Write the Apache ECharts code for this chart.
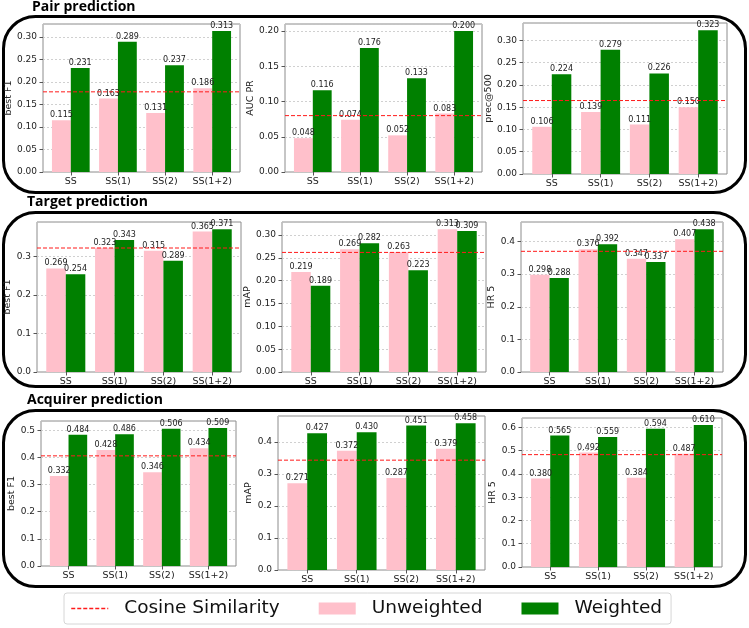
<!DOCTYPE html>
<html>
<head>
<meta charset="utf-8">
<script src="https://cdn.jsdelivr.net/npm/echarts@6/dist/echarts.min.js"></script>
<style>
  html, body { margin: 0; padding: 0; background: #fff; }
  #box { width: 749px; height: 628px; }
</style>
</head>
<body>
<div id="box"></div>
<script>
// x 轴类别
const categories = ['SS', 'SS(1)', 'SS(2)', 'SS(1+2)'];

// Pair prediction
const pairF1Unweighted = [0.115, 0.163, 0.131, 0.186];
const pairF1Weighted = [0.231, 0.289, 0.237, 0.313];
const pairF1Cosine = 0.178;
const pairAucUnweighted = [0.048, 0.074, 0.052, 0.083];
const pairAucWeighted = [0.116, 0.176, 0.133, 0.200];
const pairAucCosine = 0.080;
const pairPrecUnweighted = [0.106, 0.139, 0.111, 0.150];
const pairPrecWeighted = [0.224, 0.279, 0.226, 0.323];
const pairPrecCosine = 0.165;

// Target prediction
const targetF1Unweighted = [0.269, 0.323, 0.315, 0.365];
const targetF1Weighted = [0.254, 0.343, 0.289, 0.371];
const targetF1Cosine = 0.322;
const targetMapUnweighted = [0.219, 0.269, 0.263, 0.313];
const targetMapWeighted = [0.189, 0.282, 0.223, 0.309];
const targetMapCosine = 0.262;
const targetHrUnweighted = [0.298, 0.376, 0.347, 0.407];
const targetHrWeighted = [0.288, 0.392, 0.337, 0.438];
const targetHrCosine = 0.370;

// Acquirer prediction
const acqF1Unweighted = [0.332, 0.428, 0.346, 0.434];
const acqF1Weighted = [0.484, 0.486, 0.506, 0.509];
const acqF1Cosine = 0.406;
const acqMapUnweighted = [0.271, 0.372, 0.287, 0.379];
const acqMapWeighted = [0.427, 0.430, 0.451, 0.458];
const acqMapCosine = 0.343;
const acqHrUnweighted = [0.380, 0.492, 0.384, 0.487];
const acqHrWeighted = [0.565, 0.559, 0.594, 0.610];
const acqHrCosine = 0.483;

// 每个子图: 数据 + 位置
const panels = [
  { name: 'best F1', u: pairF1Unweighted, w: pairF1Weighted, cos: pairF1Cosine, step: 0.05, dec: 2, box: [43, 24, 197, 148], gap: 28 },
  { name: 'AUC PR', u: pairAucUnweighted, w: pairAucWeighted, cos: pairAucCosine, step: 0.05, dec: 2, box: [285, 24, 197, 148], gap: 28 },
  { name: 'prec@500', u: pairPrecUnweighted, w: pairPrecWeighted, cos: pairPrecCosine, step: 0.05, dec: 2, box: [523, 23, 204, 151], gap: 28 },
  { name: 'best F1', u: targetF1Unweighted, w: targetF1Weighted, cos: targetF1Cosine, step: 0.1, dec: 1, box: [37, 222, 204, 150], gap: 22 },
  { name: 'mAP', u: targetMapUnweighted, w: targetMapWeighted, cos: targetMapCosine, step: 0.05, dec: 2, box: [282, 222, 204, 150], gap: 28 },
  { name: 'HR 5', u: targetHrUnweighted, w: targetHrWeighted, cos: targetHrCosine, step: 0.1, dec: 1, box: [521, 222, 202, 150], gap: 22 },
  { name: 'best F1', u: acqF1Unweighted, w: acqF1Weighted, cos: acqF1Cosine, step: 0.1, dec: 1, box: [41, 421, 195, 145], gap: 22 },
  { name: 'mAP', u: acqMapUnweighted, w: acqMapWeighted, cos: acqMapCosine, step: 0.1, dec: 1, box: [278, 416, 207, 154], gap: 22 },
  { name: 'HR 5', u: acqHrUnweighted, w: acqHrWeighted, cos: acqHrCosine, step: 0.1, dec: 1, box: [522, 418, 200, 149], gap: 22 }
];

const FONT = 'DejaVu Sans';
const PINK = '#ffc0cb';
const GREEN = '#008000';
const RED = '#ff1a1a';
// x 轴范围 (和 matplotlib 的 margins 一致)
const xMin = -0.59, xMax = 3.59;

const grid = [], xAxis = [], yAxis = [], series = [];

panels.forEach((p, k) => {
  const yMax = Math.max(...p.u, ...p.w) * 1.05;

  grid.push({
    left: p.box[0], top: p.box[1], width: p.box[2], height: p.box[3],
    show: true, borderColor: '#8c8c8c', borderWidth: 1, backgroundColor: 'transparent'
  });
  xAxis.push({
    type: 'value', gridIndex: k, min: xMin, max: xMax,
    axisLine: { show: false, onZero: false },
    splitLine: { show: false },
    axisTick: { show: true, length: 3.5, customValues: [0, 1, 2, 3], lineStyle: { color: '#555' } },
    axisLabel: {
      customValues: [0, 1, 2, 3], margin: 5,
      formatter: v => categories[Math.round(v)],
      fontFamily: FONT, fontSize: 9.5, color: '#222'
    }
  });
  yAxis.push({
    type: 'value', gridIndex: k, min: 0, max: yMax, interval: p.step,
    name: p.name, nameLocation: 'middle', nameRotate: 90, nameGap: p.gap,
    nameTextStyle: { fontFamily: FONT, fontSize: 9.5, color: '#222' },
    axisLine: { show: false, onZero: false },
    axisTick: { show: true, length: 3.5, lineStyle: { color: '#555' } },
    axisLabel: {
      margin: 6, showMaxLabel: false,
      formatter: v => v.toFixed(p.dec),
      fontFamily: FONT, fontSize: 9, color: '#222'
    },
    splitLine: { show: true, lineStyle: { color: '#c4c4c4', type: [2, 2], width: 0.8 } }
  });

  const barLabel = {
    show: true, position: 'top', distance: 1,
    formatter: d => d.value[1].toFixed(3),
    fontFamily: FONT, fontSize: 8, color: '#222'
  };
  series.push({
    name: 'Unweighted', type: 'bar', xAxisIndex: k, yAxisIndex: k,
    data: p.u.map((v, i) => [i, v]),
    barWidth: '40%', barGap: '0%',
    itemStyle: { color: PINK }, label: barLabel
  });
  series.push({
    name: 'Weighted', type: 'bar', xAxisIndex: k, yAxisIndex: k,
    data: p.w.map((v, i) => [i, v]),
    barWidth: '40%', barGap: '0%',
    itemStyle: { color: GREEN }, label: barLabel
  });
  // 余弦相似度 基准线 (横跨整个 x 轴)
  series.push({
    name: 'Cosine Similarity', type: 'line', xAxisIndex: k, yAxisIndex: k,
    data: [[xMin, p.cos], [xMax, p.cos]],
    symbol: 'none', silent: true, z: 3,
    lineStyle: { color: RED, type: [4, 2], width: 1 },
    itemStyle: { color: RED }
  });
});

// 外框 和 标题
const rowBoxes = [[3.5, 16.5, 742, 176], [3.5, 212.5, 742, 174], [3.5, 410.5, 742, 176]];
const titles = [['Pair prediction', 32, 7.5], ['Target prediction', 27, 202], ['Acquirer prediction', 27, 400.5]];
const graphic = [];
rowBoxes.forEach(b => graphic.push({
  type: 'rect', silent: true, z: 0,
  shape: { x: b[0], y: b[1], width: b[2], height: b[3], r: 32 },
  style: { fill: 'none', stroke: '#000', lineWidth: 3 }
}));
titles.forEach(t => graphic.push({
  type: 'text', silent: true, x: t[1], y: t[2],
  style: { text: t[0], fontFamily: 'Open Sans', fontWeight: 'bold', fontSize: 14, fill: '#000', verticalAlign: 'middle' }
}));

var myChart = echarts.init(document.getElementById('box'));
myChart.setOption({
  animation: false,
  backgroundColor: '#fff',
  grid, xAxis, yAxis, series, graphic,
  legend: {
    left: 64, top: 593,
    itemWidth: 37, itemHeight: 12, itemGap: 39,
    padding: [6, 9, 6, 6.5],
    borderColor: '#d6d6d6', borderWidth: 1, borderRadius: 3,
    textStyle: { fontFamily: FONT, fontSize: 18.5, color: '#111', padding: [0, 0, 0, 11] },
    data: [
      { name: 'Cosine Similarity', itemStyle: { opacity: 0 }, lineStyle: { color: RED, type: [4, 2], width: 1.5 } },
      { name: 'Unweighted', icon: 'rect' },
      { name: 'Weighted', icon: 'rect' }
    ]
  }
});
</script>
</body>
</html>
